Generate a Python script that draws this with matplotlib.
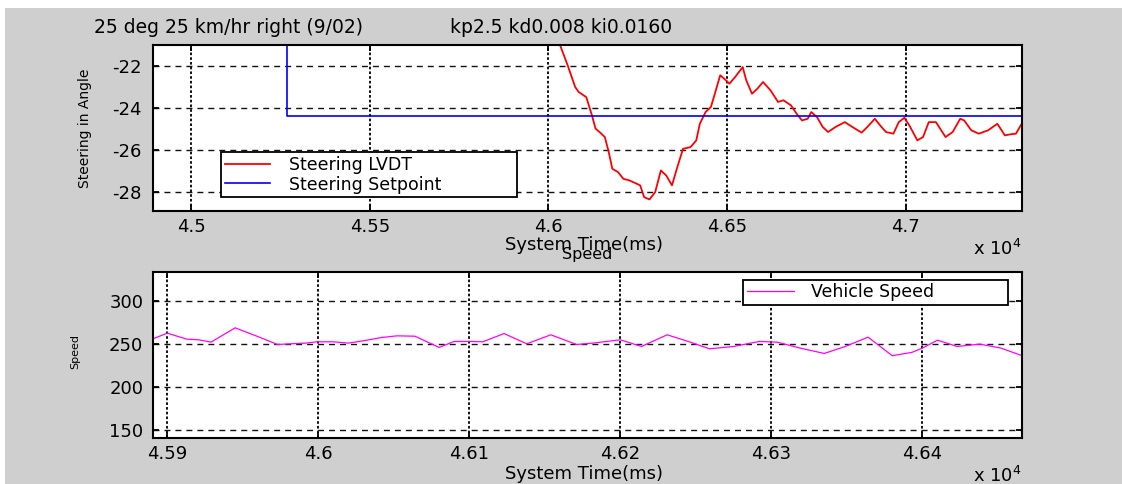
import matplotlib
matplotlib.use("Agg")
import matplotlib.pyplot as plt
from matplotlib.patches import Rectangle
from matplotlib.ticker import FixedLocator, FuncFormatter

# ---- data -------------------------------------------------------------
title_left = "25 deg 25 km/hr right (9/02)"
title_right = "kp2.5 kd0.008 ki0.0160"

# steering LVDT trace (system time in ms, steering angle in deg)
lvdt_time = [46020, 46033, 46054, 46075, 46085, 46106, 46122, 46132, 46143, 46158,
             46169, 46179, 46195, 46210, 46226, 46247, 46257, 46268, 46283, 46299,
             46315, 46330, 46346, 46361, 46377, 46398, 46414, 46424, 46440, 46455,
             46466, 46481, 46492, 46507, 46523, 46544, 46554, 46570, 46585, 46601,
             46622, 46643, 46658, 46679, 46695, 46710, 46726, 46736, 46752, 46768,
             46783, 46804, 46830, 46851, 46877, 46893, 46914, 46929, 46945, 46966,
             46981, 46997, 47013, 47033, 47049, 47065, 47085, 47112, 47132, 47153,
             47164, 47184, 47205, 47231, 47257, 47278, 47294, 47309, 47325]
lvdt_deg = [-20.5, -21.02, -21.97, -23.00, -23.24, -23.48, -24.35, -24.98, -25.14, -25.38,
            -26.10, -26.89, -27.05, -27.37, -27.44, -27.60, -27.68, -28.24, -28.35, -28.00,
            -26.97, -27.21, -27.68, -26.81, -25.94, -25.86, -25.54, -24.75, -24.19, -23.95,
            -23.32, -22.44, -22.60, -22.84, -22.52, -22.05, -22.68, -23.32, -23.08, -22.76,
            -23.16, -23.71, -23.63, -23.87, -24.27, -24.59, -24.51, -24.19, -24.43, -24.90,
            -25.14, -24.90, -24.67, -24.90, -25.17, -24.90, -24.51, -24.83, -25.14, -25.22,
            -24.67, -24.46, -24.90, -25.54, -25.38, -24.67, -24.67, -25.38, -25.14, -24.51,
            -24.59, -25.06, -25.22, -25.06, -24.75, -25.30, -25.25, -25.22, -24.75]

# steering setpoint (step command)
setpoint_time = [45268, 45268, 47330]
setpoint_deg = [-20.0, -24.4, -24.4]

# vehicle speed
speed_time = [45890, 45900, 45913, 45921, 45929, 45945, 45961, 45973, 45982, 45992,
              45999, 46010, 46020, 46030, 46042, 46052, 46064, 46080, 46090, 46101,
              46109, 46123, 46138, 46154, 46171, 46182, 46191, 46200, 46214, 46231,
              46245, 46259, 46275, 46292, 46304, 46319, 46335, 46349, 46364, 46380,
              46393, 46400, 46410, 46423, 46438, 46452, 46466]
speed_val = [255.4, 262.3, 255.4, 254.6, 251.9, 268.5, 257.7, 249.2, 250.0, 250.8,
             252.3, 252.3, 250.8, 253.5, 257.3, 259.2, 258.8, 245.8, 252.7, 252.7,
             252.3, 261.9, 250.0, 260.4, 249.2, 250.8, 252.7, 254.6, 246.9, 260.4,
             252.7, 244.2, 246.9, 252.7, 251.9, 245.0, 238.8, 246.9, 257.7, 236.2,
             240.0, 245.0, 254.2, 246.9, 249.6, 245.0, 236.2]

steer_xticks = [45000, 45500, 46000, 46500, 47000]
steer_yticks = [-28, -26, -24, -22]
speed_xticks = [45900, 46000, 46100, 46200, 46300, 46400]
speed_yticks = [150, 200, 250, 300]

# ---- styling ----------------------------------------------------------
plt.rcParams["font.family"] = ["DejaVu Sans"]
plt.rcParams["axes.unicode_minus"] = False
plt.rcParams["lines.scale_dashes"] = False

W, H = 1122, 484
DPI = 100
fig = plt.figure(figsize=(W / DPI, H / DPI), dpi=DPI, facecolor="white")


def fx(px):
    return px / W


def fy(py):
    return 1 - py / H


# grey window background
fig.patches.append(Rectangle((fx(5), 0), 1, fy(8), transform=fig.transFigure,
                             facecolor="#cfcfcf", edgecolor="none", zorder=-10))

TICK_FS = 13


def style_axes(ax, xpad, ypad):
    ax.set_facecolor("white")
    for sp in ax.spines.values():
        sp.set_linewidth(1.5)
        sp.set_color("black")
    ax.tick_params(direction="in", top=True, right=True, length=4.5, width=1.3,
                   labelsize=TICK_FS, colors="black")
    ax.tick_params(axis="x", pad=xpad)
    ax.tick_params(axis="y", pad=ypad)
    ax.xaxis.grid(True, color="#111111", linewidth=1.4, linestyle=(0, (1.9, 1.5)))
    ax.yaxis.grid(True, color="#111111", linewidth=1.0, linestyle=(0, (4.3, 3.6)))
    ax.set_axisbelow(True)
    ax.xaxis.set_major_formatter(FuncFormatter(lambda v, p: f"{v / 1e4:g}"))


# ---- steering panel ---------------------------------------------------
ax1 = fig.add_axes([fx(153), fy(211), fx(1022) - fx(153), fy(45) - fy(211)])
ax1.plot(lvdt_time, lvdt_deg, color="#ff0000", linewidth=1.3, label="Steering LVDT")
ax1.plot(setpoint_time, setpoint_deg, color="#0000ff", linewidth=1.2,
         label="Steering Setpoint")
ax1.set_xlim(44893, 47326)
ax1.set_ylim(-28.9, -21.0)
ax1.xaxis.set_major_locator(FixedLocator(steer_xticks))
ax1.yaxis.set_major_locator(FixedLocator(steer_yticks))
style_axes(ax1, xpad=5, ypad=8)
ax1.set_xlabel("System Time(ms)", fontsize=13, va="top")
ax1.xaxis.set_label_coords(0.496, -0.150)
ax1.set_ylabel("Steering in Angle", fontsize=10)
ax1.yaxis.set_label_coords(-0.070, 0.5)
leg1 = ax1.legend(loc="upper left", bbox_to_anchor=(0.0783, 0.1024, 0.3406, 0.2530),
                  mode="expand", fontsize=12.5, labelspacing=0.1, borderpad=0.22,
                  handlelength=2.6, handletextpad=1.1, fancybox=False,
                  framealpha=1, edgecolor="black", borderaxespad=0)
leg1.get_frame().set_linewidth(1.3)

# ---- speed panel ------------------------------------------------------
ax2 = fig.add_axes([fx(153), fy(438.3), fx(1021.5) - fx(153), fy(272.3) - fy(438.3)])
ax2.plot(speed_time, speed_val, color="#ff00ff", linewidth=0.9, label="Vehicle Speed")
ax2.set_xlim(45890.6, 46465.6)
ax2.set_ylim(140.4, 332.9)
ax2.xaxis.set_major_locator(FixedLocator(speed_xticks))
ax2.yaxis.set_major_locator(FixedLocator(speed_yticks))
style_axes(ax2, xpad=5, ypad=7)
ax2.set_title("Speed", fontsize=11.5, pad=9.4)
ax2.set_xlabel("System Time(ms)", fontsize=13, va="top")
ax2.xaxis.set_label_coords(0.496, -0.161)
ax2.set_ylabel("Speed", fontsize=8)
ax2.yaxis.set_label_coords(-0.0836, 0.52)
leg2 = ax2.legend(loc="upper left", bbox_to_anchor=(0.6798, 0.8133, 0.3051, 0.1404),
                  mode="expand", fontsize=12.5, borderpad=0.2,
                  handlelength=2.7, handletextpad=1.0, fancybox=False,
                  framealpha=1, edgecolor="black", borderaxespad=0)
leg2.get_frame().set_linewidth(1.3)

# ---- figure texts -----------------------------------------------------
fig.text(fx(94), fy(32.7), title_left, fontsize=13.5, va="baseline", ha="left")
fig.text(fx(450), fy(32.7), title_right, fontsize=13.5, va="baseline", ha="left")
fig.text(fx(1022), fy(239), r"x 10$^{4}$", fontsize=13, va="top", ha="right")
fig.text(fx(1022), fy(466), r"x 10$^{4}$", fontsize=13, va="top", ha="right")

fig.savefig("out.png", dpi=DPI, facecolor=fig.get_facecolor())
